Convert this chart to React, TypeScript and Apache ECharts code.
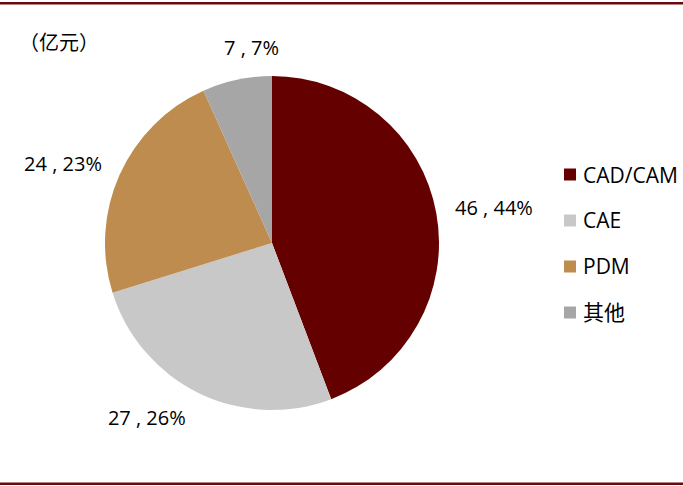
import React, { useEffect, useRef } from "react";
import * as echarts from "echarts";

const categories = ["CAD/CAM", "CAE", "PDM", "其他"];
const values = [46, 27, 24, 7];
const percents = ["44%", "26%", "23%", "7%"];
const colors = ["#640000", "#C8C8C8", "#BE8C4E", "#A6A6A6"];
const unitLabel = "（亿元）";
// small label nudges (style only)
const labelNudgeX = [0, -2, 0, 50];
const labelNudgeY = [-3, 12, -5, -19];

export default function App() {
  const ref = useRef<HTMLDivElement>(null);
  useEffect(() => {
    if (!ref.current) return;
    const chart = echarts.init(ref.current, null, { renderer: "svg" });
    chart.setOption({
      animation: false,
      backgroundColor: "#ffffff",
      graphic: [
        { type: "rect", shape: { x: 0, y: 2, width: 683, height: 2.5 }, style: { fill: "#6B0A0A" } },
        { type: "rect", shape: { x: 0, y: 482.5, width: 683, height: 2.5 }, style: { fill: "#6B0A0A" } },
        {
          type: "text",
          left: 19,
          top: 31,
          style: {
            text: unitLabel,
            fontFamily: "Noto Sans CJK SC",
            fontSize: 20,
            fill: "#000",
          },
        },
      ],
      legend: {
        orient: "vertical",
        left: 559,
        top: 159,
        itemWidth: 12,
        itemHeight: 12,
        itemGap: 25,
        icon: "rect",
        data: categories,
        textStyle: {
          fontFamily: '"Open Sans", "Noto Sans CJK SC"',
          fontSize: 21,
          color: "#000",
          lineHeight: 20,
          padding: [0, 0, 0, 2],
        },
      },
      series: [
        {
          type: "pie",
          center: [272, 243],
          radius: [0, 167],
          startAngle: 90,
          clockwise: true,
          silent: true,
          data: categories.map((c, i) => ({
            name: c,
            value: values[i],
            itemStyle: { color: colors[i] },
          })),
          label: {
            show: true,
            position: "outside",
            formatter: (p: any) => `${values[p.dataIndex]} , ${percents[p.dataIndex]}`,
            fontFamily: '"Open Sans", sans-serif',
            fontSize: 20,
            color: "#000",
          },
          labelLine: { show: false, length: 14, length2: 0 },
          labelLayout: (p: any) => ({ dx: labelNudgeX[p.dataIndex], dy: labelNudgeY[p.dataIndex] }),
        },
      ],
    });
    return () => chart.dispose();
  }, []);
  return (
    <div
      ref={ref}
      style={{ position: "fixed", left: 0, top: 0, width: 683, height: 486 }}
    />
  );
}
